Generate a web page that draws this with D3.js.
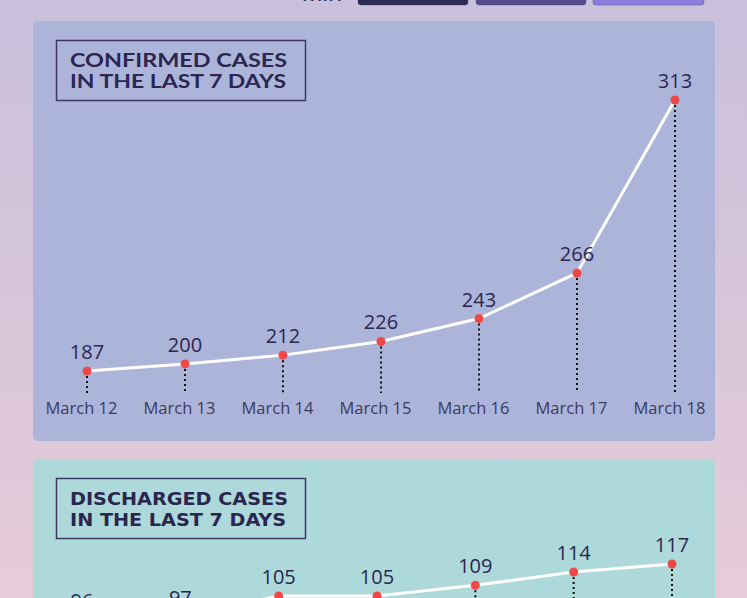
<!DOCTYPE html>
<html><head><meta charset="utf-8">
<script src="https://cdn.jsdelivr.net/npm/d3@7"></script>
<style>
html,body{margin:0;padding:0;overflow:hidden;}
body{width:747px;height:598px;}
</style></head>
<body>
<svg id="c" width="747" height="598"></svg>
<script>
const dates = ["March 12","March 13","March 14","March 15","March 16","March 17","March 18"];
const confirmed = [187,200,212,226,243,266,313];
const discharged = [96,97,105,105,109,114,117];
const titleConfirmed = ["CONFIRMED CASES","IN THE LAST 7 DAYS"];
const titleDischarged = ["DISCHARGED CASES","IN THE LAST 7 DAYS"];
const headerText = "min";

const svg = d3.select("#c");
const defs = svg.append("defs");
const g = defs.append("linearGradient").attr("id","bg").attr("x1",0).attr("y1",0).attr("x2",0).attr("y2",1);
g.append("stop").attr("offset","0%").attr("stop-color","#c8c0dc");
g.append("stop").attr("offset","100%").attr("stop-color","#e7cbd8");
svg.append("rect").attr("width",747).attr("height",598).attr("fill","url(#bg)");

// header (cut off at top)
svg.append("text").attr("x",302).attr("y",1).attr("font-family","Lato, sans-serif")
  .attr("font-size",30).attr("fill","#2d2a52").attr("textLength",40).attr("lengthAdjust","spacingAndGlyphs").text(headerText);
const btns = [[358,468,"#2d2a52"],[476,586,"#564b8d"],[593,704,"#8b7ddd"]];
btns.forEach(b=>{
  svg.append("rect").attr("x",b[0]).attr("y",-10).attr("width",b[1]-b[0]).attr("height",15)
    .attr("rx",3).attr("fill",b[2]).attr("stroke","#3b3566").attr("stroke-opacity",0.35);
});

function panel(top, fill, titles, titleFont, values, xr, yScale){
  svg.append("rect").attr("x",33).attr("y",top).attr("width",682).attr("height",420)
    .attr("rx",5).attr("fill",fill);
  svg.append("rect").attr("x",56.5).attr("y",top+19.5).attr("width",249).attr("height",60)
    .attr("fill","none").attr("stroke","#3a3862").attr("stroke-width",1.5);
  titles.forEach((t,i)=>{
    svg.append("text").attr("x",70).attr("y",top+46+i*20.5)
      .attr("font-family",titleFont.family).attr("font-weight","bold").attr("font-size",titleFont.size)
      .attr("fill","#2a2650").attr("textLength",titleFont.len[i]).attr("lengthAdjust","spacingAndGlyphs")
      .text(t);
  });
  const x = d3.scalePoint().domain(dates).range(xr);
  const data = dates.map((d,i)=>({d, v: values[i]}));
  const baseY = top + 372;
  svg.append("g").selectAll("line").data(data).join("line")
    .attr("x1",d=>x(d.d)).attr("x2",d=>x(d.d))
    .attr("y1",d=>yScale(d.v)).attr("y2",baseY)
    .attr("stroke","#111").attr("stroke-width",2).attr("stroke-dasharray","2,3");
  const line = d3.line().x(d=>x(d.d)).y(d=>yScale(d.v));
  svg.append("path").datum(data).attr("d",line).attr("fill","none")
    .attr("stroke","#ffffff").attr("stroke-width",3);
  svg.append("g").selectAll("circle").data(data).join("circle")
    .attr("cx",d=>x(d.d)).attr("cy",d=>yScale(d.v)).attr("r",4.5).attr("fill","#f04848");
  svg.append("g").selectAll("text").data(data).join("text")
    .attr("x",d=>x(d.d)).attr("y",d=>yScale(d.v)-12).attr("text-anchor","middle")
    .attr("font-family","'Open Sans', sans-serif").attr("font-size",20).attr("fill","#2a2650")
    .text(d=>d.v);
  const axis = d3.axisBottom(x).tickSize(0).tickPadding(0);
  const ax = svg.append("g").attr("transform",`translate(-6,${top+393})`).call(axis);
  ax.select(".domain").remove();
  ax.selectAll("text").attr("font-family","'Open Sans', sans-serif").attr("font-size",16.5)
    .attr("fill","#3a3a5e").attr("dy","0");
}

const y1 = d3.scalePow().exponent(5.7).domain(d3.extent(confirmed)).range([371,100]);
panel(21, "#adb4da", titleConfirmed, {family:"Lato, 'Open Sans', sans-serif", size:18.5, len:[217,216]},
  confirmed, [87,675], y1);

const y2 = d3.scaleLinear().domain(d3.extent(discharged)).range([620,564]);
panel(459, "#aed9da", titleDischarged, {family:"'Liberation Sans Narrow', 'DejaVu Sans Condensed', sans-serif", size:18.5, len:[218,216]},
  discharged, [82,672], y2);
</script>
</body></html>
